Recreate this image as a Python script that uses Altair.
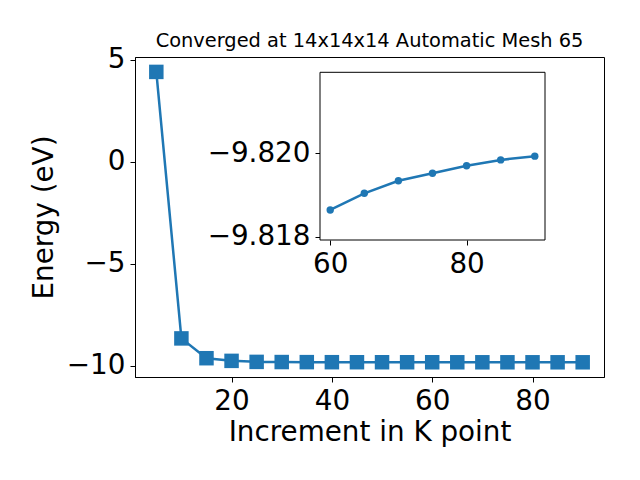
import altair as alt
import pandas as pd

# main series
k_main = [5, 10, 15, 20, 25, 30, 35, 40, 45, 50, 55, 60, 65, 70, 75, 80, 85, 90]
e_main = [4.40, -8.65, -9.62, -9.75, -9.80, -9.808, -9.812, -9.815, -9.816, -9.817,
          -9.818, -9.81864, -9.81904, -9.81934, -9.81952, -9.81970, -9.81984, -9.81993]
# inset series
k_inset = [60, 65, 70, 75, 80, 85, 90]
e_inset = [-9.81864, -9.81904, -9.81934, -9.81952, -9.81970, -9.81984, -9.81993]

main_x_ticks = [20, 40, 60, 80]
main_y_ticks = [5, 0, -5, -10]
inset_x_ticks = [60, 80]
inset_y_ticks = [-9.820, -9.818]

BLUE = "#1f77b4"
FONT = "DejaVu Sans"
W, H = 469, 320

main_df = pd.DataFrame({"k": k_main, "e": e_main})
inset_df = pd.DataFrame({"k": k_inset, "e": e_inset})
frame_df = pd.DataFrame({"k": [58.5], "k2": [91.5], "e": [-9.82194], "e2": [-9.81792]})

mx = alt.Scale(domain=[0.75, 94.25], nice=False, zero=False)
my = alt.Scale(domain=[-10.54, 5.13], nice=False, zero=False)

main_axis_x = alt.Axis(values=main_x_ticks, title="Increment in K point", format="d",
                       grid=False, titlePadding=4)
main_axis_y = alt.Axis(values=main_y_ticks, title="Energy (eV)", format="d",
                       grid=False, titlePadding=8)

main_line = alt.Chart(main_df).mark_line(color=BLUE, strokeWidth=2.5).encode(
    x=alt.X("k:Q", scale=mx, axis=main_axis_x),
    y=alt.Y("e:Q", scale=my, axis=main_axis_y),
)
main_pts = alt.Chart(main_df).mark_point(shape="square", filled=True, size=210,
                                         color=BLUE, opacity=1).encode(
    x=alt.X("k:Q", scale=mx, axis=main_axis_x),
    y=alt.Y("e:Q", scale=my, axis=main_axis_y),
)
main = alt.layer(main_line, main_pts)

# inset placed via pixel ranges inside the plot area
IX0, IX1 = 185, 410
IY0, IY1 = 15.3, 183
ix = alt.Scale(domain=[58.5, 91.5], nice=False, zero=False, range=[IX0, IX1])
iy = alt.Scale(domain=[-9.82194, -9.81792], nice=False, zero=False, range=[IY0, IY1])

inset_axis_x = alt.Axis(values=inset_x_ticks, title=None, format="d", grid=False,
                        orient="bottom", offset=-(H - IY1), domain=False)
inset_axis_y = alt.Axis(values=inset_y_ticks, title=None, format=".3f", grid=False,
                        orient="left", offset=-IX0, domain=False)

inset_frame = alt.Chart(frame_df).mark_rect(fill="white", stroke="black",
                                            strokeWidth=1).encode(
    x=alt.X("k:Q", scale=ix, axis=inset_axis_x),
    x2="k2:Q",
    y=alt.Y("e:Q", scale=iy, axis=inset_axis_y),
    y2="e2:Q",
)
inset_line = alt.Chart(inset_df).mark_line(color=BLUE, strokeWidth=2.5).encode(
    x=alt.X("k:Q", scale=ix, axis=inset_axis_x),
    y=alt.Y("e:Q", scale=iy, axis=inset_axis_y),
)
inset_pts = alt.Chart(inset_df).mark_point(shape="circle", filled=True, size=55,
                                           color=BLUE, opacity=1).encode(
    x=alt.X("k:Q", scale=ix, axis=inset_axis_x),
    y=alt.Y("e:Q", scale=iy, axis=inset_axis_y),
)
inset = alt.layer(inset_frame, inset_line, inset_pts)

chart = alt.layer(main, inset).resolve_scale(
    x="independent", y="independent"
).resolve_axis(
    x="independent", y="independent"
).properties(
    width=W, height=H,
    title=alt.TitleParams("Converged at 14x14x14 Automatic Mesh 65", fontSize=19.4,
                          font=FONT, fontWeight="normal", color="black",
                          anchor="middle", offset=-6),
    autosize=alt.AutoSizeParams(type="none"),
    padding={"left": 127, "top": 49, "right": 28, "bottom": 95},
).configure_view(
    stroke="black", strokeWidth=1
).configure_axis(
    labelFont=FONT, titleFont=FONT, labelFontSize=27.8, titleFontSize=27.8,
    labelColor="black", titleColor="black", titleFontWeight="normal",
    domainColor="black", tickColor="black", tickSize=5, labelPadding=5,
    labelOverlap=False, labelBound=False, labelFlush=False,
)

chart.save("out.html", embed_options={"renderer": "svg", "actions": False})
